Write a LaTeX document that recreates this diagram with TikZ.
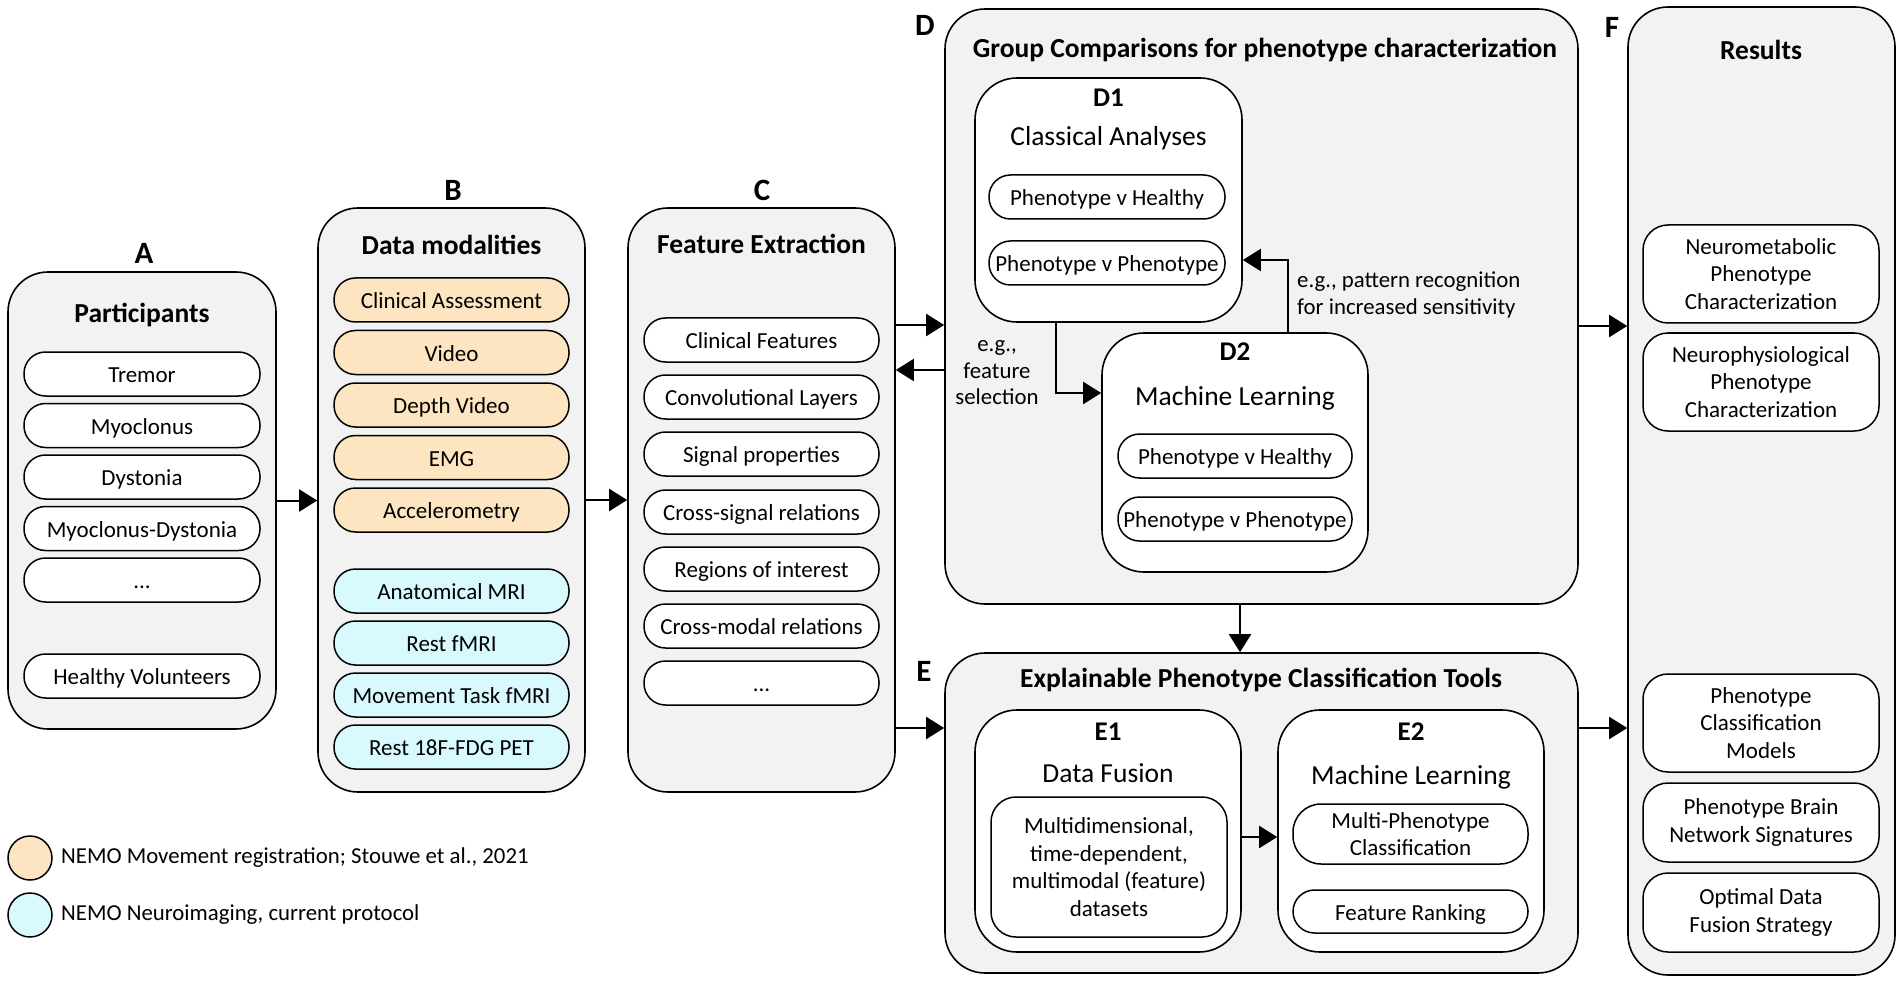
\documentclass[tikz,border=0pt]{standalone}
\usepackage{fontspec}
\setmainfont{Carlito}
\usetikzlibrary{arrows.meta}
\definecolor{panelgray}{HTML}{F2F2F2}
\definecolor{movtan}{HTML}{FCE5C0}
\definecolor{imgcyan}{HTML}{D8FAFE}
\begin{document}
\begin{tikzpicture}[x=1pt,y=-1pt,
  panel/.style={draw, line width=1.6pt, fill=panelgray, rounded corners=40pt, inner sep=0pt},
  sub/.style={draw, line width=1.6pt, fill=white, rounded corners=42pt, inner sep=0pt},
  item/.style={draw, line width=1.5pt, fill=white, rounded corners=21.5pt, minimum width=236pt, minimum height=44pt, inner sep=0pt, font=\fontsize{23}{27.5}\selectfont, text height=17pt, text depth=0pt},
  fitem/.style={draw, line width=1.5pt, fill=white, rounded corners=25pt, minimum width=236pt, inner sep=0pt, align=center, font=\fontsize{23}{27.5}\selectfont},
  lbl/.style={font=\fontsize{31}{36}\selectfont\bfseries, inner sep=0pt},
  ttl/.style={font=\fontsize{27.5}{31}\selectfont\bfseries, inner sep=0pt},
  subttl/.style={font=\fontsize{27}{30}\selectfont\bfseries, inner sep=0pt},
  subname/.style={font=\fontsize{27.5}{31}\selectfont, inner sep=0pt},
  note/.style={font=\fontsize{22.8}{26.5}\selectfont, inner sep=0pt},
  arr/.style={line width=2pt, -{Triangle[length=18pt,width=22pt]}}
]
\useasboundingbox (0,0) rectangle (1902,981);

% ---------- Panel A ----------
\node[panel, minimum width=268pt, minimum height=457pt] (A) at (142,500.5) {};
\node[lbl] (Alab) at (144,253) {A};
\node[ttl] (Attl) at (142,315) {Participants};
\node[item] (a1) at (142,374) {Tremor};
\node[item] (a2) at (142,425.5) {Myoclonus};
\node[item] (a3) at (142,477) {Dystonia};
\node[item] (a4) at (142,528.5) {Myoclonus-Dystonia};
\node[item] (a5) at (142,580) {...};
\node[item] (a6) at (142,676) {Healthy Volunteers};

% ---------- Panel B ----------
\node[panel, minimum width=267pt, minimum height=584pt] (B) at (451.5,500) {};
\node[lbl] (Blab) at (453,190) {B};
\node[ttl] (Bttl) at (451.5,245) {Data modalities};
\node[item, fill=movtan, minimum width=235pt] (b1) at (451.5,300) {Clinical Assessment};
\node[item, fill=movtan, minimum width=235pt] (b2) at (451.5,352.5) {Video};
\node[item, fill=movtan, minimum width=235pt] (b3) at (451.5,405) {Depth Video};
\node[item, fill=movtan, minimum width=235pt] (b4) at (451.5,457.5) {EMG};
\node[item, fill=movtan, minimum width=235pt] (b5) at (451.5,510) {Accelerometry};
\node[item, fill=imgcyan, minimum width=235pt] (b6) at (451.5,591) {Anatomical MRI};
\node[item, fill=imgcyan, minimum width=235pt] (b7) at (451.5,643) {Rest fMRI};
\node[item, fill=imgcyan, minimum width=235pt] (b8) at (451.5,695) {Movement Task fMRI};
\node[item, fill=imgcyan, minimum width=235pt] (b9) at (451.5,747) {Rest 18F-FDG PET};

% ---------- Panel C ----------
\node[panel, minimum width=267pt, minimum height=584pt] (C) at (761.5,500) {};
\node[lbl] (Clab) at (762,190) {C};
\node[ttl] (Cttl) at (761.5,244) {Feature Extraction};
\node[item, minimum width=235pt] (c1) at (761.5,340) {Clinical Features};
\node[item, minimum width=235pt] (c2) at (761.5,397) {Convolutional Layers};
\node[item, minimum width=235pt] (c3) at (761.5,454) {Signal properties};
\node[item, minimum width=235pt] (c4) at (761.5,512) {Cross-signal relations};
\node[item, minimum width=235pt] (c5) at (761.5,569) {Regions of interest};
\node[item, minimum width=235pt] (c6) at (761.5,626) {Cross-modal relations};
\node[item, minimum width=235pt] (c7) at (761.5,683) {...};

% ---------- Panel D ----------
\node[panel, minimum width=633pt, minimum height=595pt] (D) at (1261.5,306.5) {};
\node[lbl] (Dlab) at (925,25) {D};
\node[ttl] (Dttl) at (1265,50) {Group Comparisons for phenotype characterization};
\node[sub, minimum width=267pt, minimum height=244pt] (D1) at (1108.5,200) {};
\node[subttl] (D1ttl) at (1108.5,98) {D1};
\node[subname] (D1name) at (1108.5,138) {Classical Analyses};
\node[item] (d11) at (1107,197) {Phenotype v Healthy};
\node[item] (d12) at (1107,263) {Phenotype v Phenotype};
\node[sub, minimum width=266pt, minimum height=239pt] (D2) at (1235,452.5) {};
\node[subttl] (D2ttl) at (1235,352) {D2};
\node[subname] (D2name) at (1235,398) {Machine Learning};
\node[item, minimum width=234pt] (d21) at (1235,456) {Phenotype v Healthy};
\node[item, minimum width=234pt] (d22) at (1235,519) {Phenotype v Phenotype};
\coordinate (d1d2) at (1056,393);
\coordinate (d2d1) at (1288,260);
\draw[arr] (D1.south -| d1d2) |- (D2.west |- d1d2);
\draw[arr] (D2.north -| d2d1) |- (D1.east |- d2d1);
\node[note, anchor=west, align=left] (pat) at (1297,295) {e.g., pattern recognition\\for increased sensitivity};

% ---------- Panel E ----------
\node[panel, minimum width=633pt, minimum height=320pt] (E) at (1261.5,813) {};
\node[lbl] (Elab) at (924,671) {E};
\node[ttl] (Ettl) at (1261,680) {Explainable Phenotype Classification Tools};
\node[sub, minimum width=266pt, minimum height=242pt] (E1) at (1108,831) {};
\node[subttl] (E1ttl) at (1108,732) {E1};
\node[subname] (E1name) at (1108,773) {Data Fusion};
\node[fitem, minimum height=140pt] (e11) at (1109,867) {Multidimensional,\\time-dependent,\\multimodal (feature)\\datasets};
\node[sub, minimum width=266pt, minimum height=242pt] (E2) at (1411,831) {};
\node[subttl] (E2ttl) at (1411,732) {E2};
\node[subname] (E2name) at (1411,777) {Machine Learning};
\node[fitem, minimum width=235pt, minimum height=60pt, rounded corners=28pt] (e21) at (1410.5,834) {Multi-Phenotype\\Classification};
\node[item, minimum width=235pt, minimum height=43pt] (e22) at (1410.5,911.5) {Feature Ranking};
\coordinate (e1e2) at (0,837);
\draw[arr] (E1.east |- e1e2) -- (E2.west |- e1e2);

% ---------- Panel F ----------
\node[panel, minimum width=267pt, minimum height=968pt] (F) at (1761.5,491) {};
\node[lbl] (Flab) at (1612,27) {F};
\node[ttl] (Fttl) at (1761,50) {Results};
\node[fitem, minimum height=98pt] (f1) at (1761,274) {Neurometabolic\\Phenotype\\Characterization};
\node[fitem, minimum height=98pt] (f2) at (1761,382) {Neurophysiological\\Phenotype\\Characterization};
\node[fitem, minimum height=98pt] (f3) at (1761,723) {Phenotype\\Classification\\Models};
\node[fitem, minimum height=79pt] (f4) at (1761,822.5) {Phenotype Brain\\Network Signatures};
\node[fitem, minimum height=79pt] (f5) at (1761,912.5) {Optimal Data\\Fusion Strategy};

% ---------- Connectors between panels ----------
\draw[arr] (A.east) -- (B.west |- A.east);
\draw[arr] (B.east) -- (C.west |- B.east);
\coordinate (cd) at (0,325);
\coordinate (dc) at (0,370);
\coordinate (ce) at (0,728);
\coordinate (df) at (0,326);
\coordinate (ef) at (0,728);
\coordinate (de) at (1240,0);
\draw[arr] (C.east |- cd) -- (D.west |- cd);
\draw[arr] (D.west |- dc) -- (C.east |- dc);
\draw[arr] (C.east |- ce) -- (E.west |- ce);
\draw[arr] (D.east |- df) -- (F.west |- df);
\draw[arr] (E.east |- ef) -- (F.west |- ef);
\draw[arr] (D.south -| de) -- (E.north -| de);
\node[note, align=center] (fsel) at (997,373) {e.g.,\\feature\\selection};

% ---------- Legend ----------
\node[draw, line width=1.5pt, fill=movtan, circle, minimum size=44pt, inner sep=0pt] (lg1) at (30,858) {};
\node[draw, line width=1.5pt, fill=imgcyan, circle, minimum size=44pt, inner sep=0pt] (lg2) at (30,915) {};
\node[note, anchor=west] (lt1) at (61,858) {NEMO Movement registration; Stouwe et al., 2021};
\node[note, anchor=west] (lt2) at (61,915) {NEMO Neuroimaging, current protocol};
\end{tikzpicture}
\end{document}
